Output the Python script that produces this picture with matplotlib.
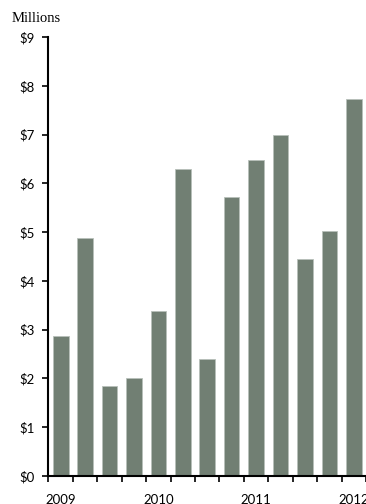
import matplotlib
matplotlib.use("Agg")
import matplotlib.pyplot as plt
import numpy as np

values = [2.88, 4.88, 1.84, 2.00, 3.38, 6.29, 2.40, 5.72, 6.48, 7.00, 4.44, 5.02, 7.73]
year_labels = ["2009", "2010", "2011", "2012"]
year_pos = [0, 4, 8, 12]
y_ticks = list(range(0, 10))
y_labels = ["$" + str(v) for v in y_ticks]

fig = plt.figure(figsize=(3.66, 5.04), dpi=100)
ax = fig.add_axes([0.1325, 0.0556, 0.8675, 0.871])

x = np.arange(len(values))
ax.bar(x, values, width=0.64, color="#717f73", edgecolor="#b8c0ba", linewidth=0.6)

ax.set_xlim(-0.5, len(values) - 0.5)
ax.set_ylim(0, 9)

ax.set_yticks(y_ticks)
ax.set_yticklabels(y_labels, family="Lato", fontsize=9.5)
ax.set_xticks(np.arange(-0.5, len(values), 1.0))
ax.set_xticklabels([])
ax.tick_params(axis="both", direction="out", length=4, width=1.2, color="black")
ax.tick_params(axis="y", pad=6)

for p, lab in zip(year_pos, year_labels):
    ax.text(p, -0.36, lab, ha="center", va="top", family="Lato", fontsize=9.5,
            transform=ax.transData, clip_on=False)

for s in ["top", "right"]:
    ax.spines[s].set_visible(False)
ax.spines["left"].set_linewidth(1.5)
ax.spines["bottom"].set_linewidth(1.5)

fig.text(0.033, 0.964, "Millions", family="Liberation Serif", fontsize=10.5, ha="left", va="center")

fig.savefig("out.png", dpi=100)
